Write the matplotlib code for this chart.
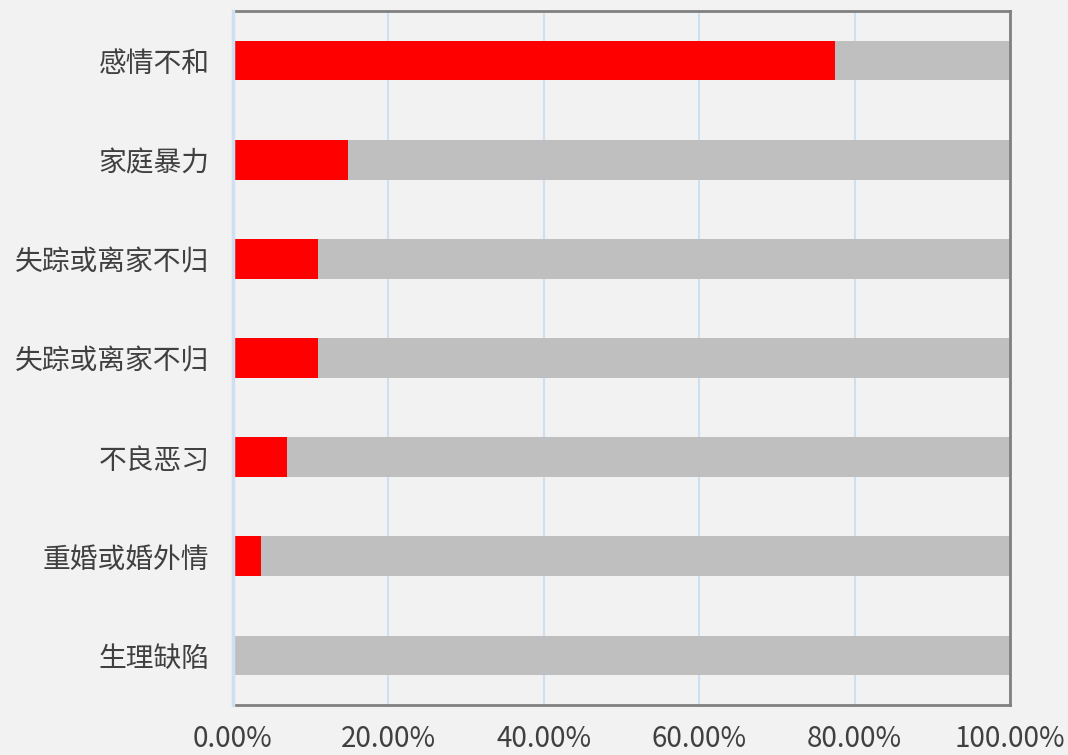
import matplotlib.pyplot as plt
from matplotlib.ticker import PercentFormatter

plt.rcParams['font.family'] = ['Noto Sans CJK SC', 'DejaVu Sans']

categories = ["感情不和", "家庭暴力", "失踪或离家不归", "失踪或离家不归", "不良恶习", "重婚或婚外情", "生理缺陷"]
values = [77.5, 14.8, 10.9, 10.9, 6.95, 3.6, 0.0]
totals = [100] * len(categories)

fig = plt.figure(figsize=(10.68, 7.55), dpi=100, facecolor='#f2f2f2')
ax = fig.add_axes([233 / 1068, 1 - 705 / 755, 777 / 1068, 694 / 755])
ax.set_facecolor('#f2f2f2')

pos = list(range(len(categories)))[::-1]
ax.barh(pos, totals, height=0.4, color='#bfbfbf', zorder=2)
ax.barh(pos, values, height=0.4, color='#ff0000', zorder=3)

ax.set_xlim(0, 100)
ax.set_ylim(-0.5, len(categories) - 0.5)
ax.set_xticks([0, 20, 40, 60, 80, 100])
ax.xaxis.set_major_formatter(PercentFormatter(decimals=2))
ax.set_yticks(pos)
ax.set_yticklabels(categories)

ax.grid(axis='x', color='#cfdff2', linewidth=1.5, zorder=1)
ax.tick_params(length=0, labelsize=20, colors='#404040')
ax.tick_params(axis='x', pad=14)
ax.tick_params(axis='y', pad=17)

for s in ['top', 'right', 'bottom']:
    ax.spines[s].set_color('#808080')
    ax.spines[s].set_linewidth(2)
ax.spines['left'].set_color('#cfdff2')
ax.spines['left'].set_linewidth(2.5)
ax.spines['left'].set_zorder(4)

fig.savefig('out.png', dpi=100, facecolor='#f2f2f2')
